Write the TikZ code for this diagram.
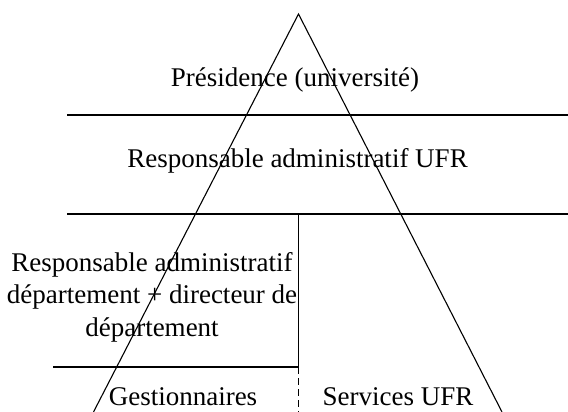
\documentclass[tikz,border=0pt]{standalone}
\usepackage{fontspec}
\setmainfont{Liberation Serif}
\usetikzlibrary{positioning}
\tikzset{
  rule/.style={line width=1.6pt, draw=black},
  leg/.style={line width=1.1pt, draw=black},
  split/.style={line width=1.5pt, draw=black, dash pattern=on 7pt off 4pt},
  lvl/.style={font=\fontsize{27}{32.5}\selectfont, inner sep=0pt},
}

\begin{document}
\begin{tikzpicture}[x=1pt,y=-1pt]
  \useasboundingbox (0,0) rectangle (568,412);

  % ------------------------------------------------ the pyramid
  \coordinate (apex) at (298.5,14);
  \coordinate (baseL) at (93.5,412);
  \coordinate (baseR) at (502,412);

  % ------------------------------------------------ the levels
  \coordinate (r1w) at (67,115);
  \coordinate (r1e) at (568,115);
  \coordinate (r2w) at (67,214);
  \coordinate (r2e) at (568,214);
  \coordinate (mid) at (298.5,214);
  \coordinate (corner) at (298.5,367);
  \coordinate (r3w) at (53,367);
  \coordinate (foot) at (298.5,412);

  \node[lvl, anchor=base] (pres) at (295,87) {Présidence (université)};
  \node[lvl, anchor=base] (rufr) at (297.5,167) {Responsable administratif UFR};
  \node[lvl, align=center] (rdep) at (152,297)
    {Responsable administratif\\ département + directeur de\\ département};
  \node[lvl, anchor=base] (gest) at (183,405) {Gestionnaires};
  \node[lvl, anchor=base] (serv) at (398,405) {Services UFR};

  \draw[rule] (r1w) -- (r1e);
  \draw[rule] (r2w) -- (r2e);
  \draw[rule] (mid) -- (corner) -- (r3w);
  \draw[split] (corner) -- (foot);

  \draw[leg] (baseL) -- (apex) -- (baseR);
\end{tikzpicture}
\end{document}
